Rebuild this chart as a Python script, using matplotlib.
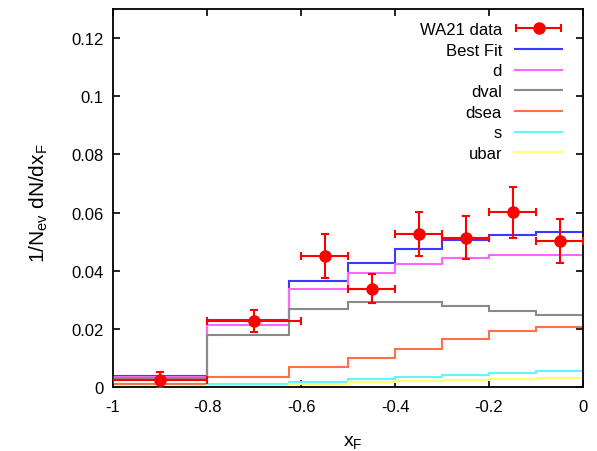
import matplotlib
matplotlib.use("Agg")
import matplotlib.pyplot as plt
import numpy as np
from matplotlib.ticker import FuncFormatter, MultipleLocator
from matplotlib.legend_handler import HandlerErrorbar

plt.rcParams["font.family"] = ["Liberation Sans", "DejaVu Sans"]
plt.rcParams["axes.unicode_minus"] = False
plt.rcParams["mathtext.fontset"] = "custom"
plt.rcParams["mathtext.rm"] = "Liberation Sans"
plt.rcParams["mathtext.default"] = "regular"

# WA21 data points
x_data = [-0.9, -0.7, -0.55, -0.45, -0.35, -0.25, -0.15, -0.05]
x_err = [0.1, 0.1, 0.05, 0.05, 0.05, 0.05, 0.05, 0.05]
y_data = [0.0023, 0.0226, 0.0451, 0.0338, 0.0526, 0.0514, 0.0601, 0.0501]
y_err = [0.0028, 0.0038, 0.0076, 0.0049, 0.0076, 0.0075, 0.0088, 0.0076]

# theory histogram (gnuplot histeps: steps midway between points)
edges = [-1.0, -0.8, -0.625, -0.5, -0.4, -0.3, -0.2, -0.1, 0.0]
best_fit = [0.0039, 0.0229, 0.0364, 0.0428, 0.0474, 0.0507, 0.0524, 0.0533]
d_tot = [0.0035, 0.0214, 0.0338, 0.0391, 0.0423, 0.0444, 0.0453, 0.0454]
dval = [0.0030, 0.0180, 0.0268, 0.0293, 0.0293, 0.0280, 0.0260, 0.0246]
dsea = [0.0010, 0.0034, 0.0070, 0.0100, 0.0132, 0.0164, 0.0194, 0.0208]
s_q = [0.0005, 0.0010, 0.0016, 0.0026, 0.0033, 0.0041, 0.0048, 0.0054]
ubar = [0.0003, 0.0005, 0.0010, 0.0016, 0.0022, 0.0024, 0.0028, 0.0031]

series = [
    ("Best Fit", best_fit, "#3a3aff"),
    ("d", d_tot, "#ff66ff"),
    ("dval", dval, "#8a8a8a"),
    ("dsea", dsea, "#ff7048"),
    ("s", s_q, "#66f5ff"),
    ("ubar", ubar, "#ffff70"),
]

fig = plt.figure(figsize=(5.97, 4.52), dpi=100)
ax = fig.add_axes([113 / 597, 1 - 388 / 452, 470 / 597, 378 / 452])

handles = []
labels = []
for name, vals, col in series:
    ax.stairs(vals, edges, baseline=None, color=col, lw=1.5, zorder=2)
    h, = ax.plot([], [], color=col, lw=1.5)
    handles.append(h)
    labels.append(name)

ax.errorbar(x_data, y_data, xerr=x_err, yerr=y_err, fmt="o", color="red",
            ms=8, lw=1.5, capsize=3, capthick=1.5, zorder=3)
proxy = ax.errorbar([np.nan], [np.nan], xerr=[0.1], fmt="o", color="red",
                    ms=8, lw=1.5, capsize=3, capthick=1.5)

ax.set_xlim(-1, 0)
ax.set_ylim(0, 0.13)
ax.xaxis.set_major_locator(MultipleLocator(0.2))
ax.yaxis.set_major_locator(MultipleLocator(0.02))
fmt = FuncFormatter(lambda v, p: "%g" % round(v, 6))
ax.xaxis.set_major_formatter(fmt)
ax.yaxis.set_major_formatter(fmt)
ax.tick_params(direction="in", length=5, width=1.2, top=True, right=True,
               labelsize=12)
ax.tick_params(axis="x", pad=9)
ax.tick_params(axis="y", pad=7)
for sp in ax.spines.values():
    sp.set_linewidth(1.3)

ax.set_xlabel("x$_F$", fontsize=14)
ax.xaxis.set_label_coords(0.51, -0.122)
ax.set_ylabel("1/N$_{ev}$ dN/dx$_F$", fontsize=15)
ax.yaxis.set_label_coords(-0.135, 0.49)

ax.legend([proxy] + handles, ["WA21 data"] + labels, loc="upper right",
          bbox_to_anchor=(562 / 597, 1 - 23 / 452), bbox_transform=fig.transFigure,
          frameon=False, markerfirst=False, fontsize=12, handlelength=2.8,
          handletextpad=0.8, labelspacing=0.34, borderpad=0, borderaxespad=0,
          handler_map={proxy: HandlerErrorbar(xerr_size=1.35)})

fig.savefig("out.png", dpi=100)
